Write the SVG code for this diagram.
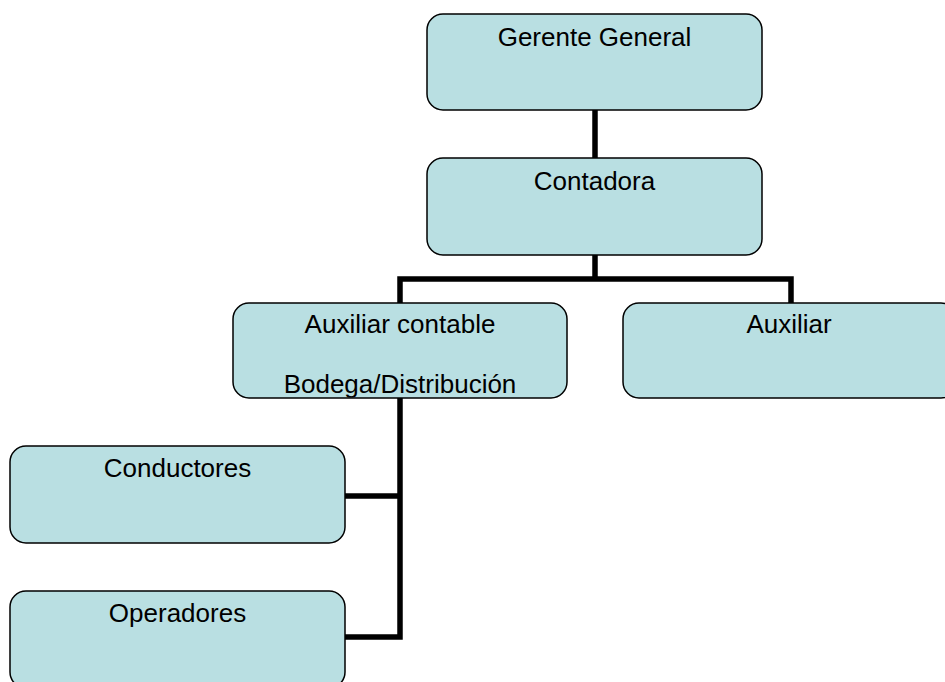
<svg xmlns="http://www.w3.org/2000/svg" width="945" height="682" viewBox="0 0 945 682">
<style>
.box{fill:#B9DFE2;stroke:#000;stroke-width:1.5}
.lbl{font-family:"Liberation Sans",Arial,sans-serif;font-size:26px;fill:#000;text-anchor:middle}
.con{fill:none;stroke:#000;stroke-width:5.5;stroke-linejoin:miter;stroke-linecap:butt}
</style>
<defs>
<clipPath id="clipAux"><rect x="233" y="303" width="334" height="94.5"/></clipPath>
</defs>
<rect width="945" height="682" fill="#fff"/>
<g id="connectors">
<path class="con" d="M595 110 V158"/>
<path class="con" d="M595 255 V279 M400 279 H791 M400 276.25 V303 M791 276.25 V303"/>
<path class="con" d="M400 398 V639.75 M345 496 H402.75 M345 637 H402.75"/>
</g>
<g id="gerente">
<rect class="box" x="427" y="14" width="335" height="96" rx="16"/>
<text class="lbl" x="594.5" y="46">Gerente General</text>
</g>
<g id="contadora">
<rect class="box" x="427" y="158" width="335" height="97" rx="16"/>
<text class="lbl" x="594.5" y="190">Contadora</text>
</g>
<g id="auxiliar-contable">
<rect class="box" x="233" y="303" width="334" height="95" rx="16"/>
<text class="lbl" x="400" y="333">Auxiliar contable</text>
<text class="lbl" x="400" y="393" clip-path="url(#clipAux)">Bodega/Distribución</text>
</g>
<g id="auxiliar">
<rect class="box" x="623" y="303" width="334" height="95" rx="16"/>
<text class="lbl" x="789" y="333">Auxiliar</text>
</g>
<g id="conductores">
<rect class="box" x="10" y="446" width="335" height="97" rx="16"/>
<text class="lbl" x="177.5" y="477">Conductores</text>
</g>
<g id="operadores">
<rect class="box" x="10" y="591" width="335" height="97" rx="16"/>
<text class="lbl" x="177.5" y="622">Operadores</text>
</g>
</svg>
